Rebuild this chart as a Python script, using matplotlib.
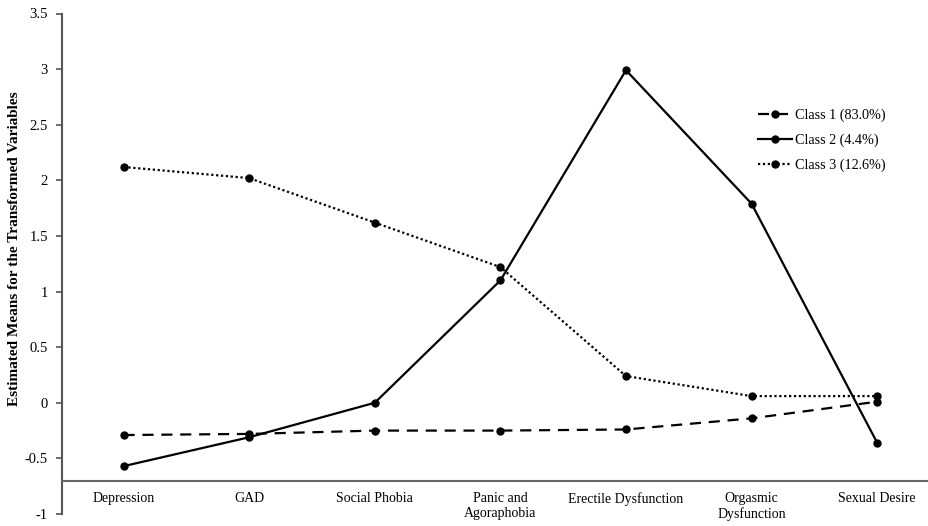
import numpy as np
import matplotlib
matplotlib.use('Agg')
import matplotlib.pyplot as plt

plt.rcParams['font.family'] = ['Liberation Serif', 'DejaVu Serif']

categories = ['Depression', 'GAD', 'Social Phobia', 'Panic and\nAgoraphobia',
              'Erectile Dysfunction', 'Orgasmic\nDysfunction', 'Sexual Desire']
class1 = [-0.29, -0.28, -0.25, -0.25, -0.24, -0.14, 0.01]
class2 = [-0.57, -0.31, 0.0, 1.10, 2.99, 1.79, -0.36]
class3 = [2.12, 2.02, 1.62, 1.22, 0.24, 0.06, 0.06]
labels = ['Class 1 (83.0%)', 'Class 2 (4.4%)', 'Class 3 (12.6%)']

fig = plt.figure(figsize=(9.29, 5.26), dpi=100)
ax = fig.add_axes([62 / 929, 12 / 526, 878 / 929, 500.5 / 526])

x = np.arange(len(categories))
ax.plot(x, class1, color='black', lw=1.6, ls=(0, (5, 3.5)), marker='o', ms=5, label=labels[0])
ax.plot(x, class2, color='black', lw=1.6, ls='-', marker='o', ms=5, label=labels[1])
ax.plot(x, class3, color='black', lw=1.6, ls=(0, (1, 1.2)), marker='o', ms=5, label=labels[2])

ax.set_xlim(-0.49, 6.5)
ax.set_ylim(-1, 3.5)
ax.set_yticks(np.arange(-1, 3.51, 0.5))
ax.set_yticklabels(['-1', '-0.5', '0', '0.5', '1', '1.5', '2', '2.5', '3', '3.5'], fontsize=10.5)
ax.set_xticks(x)
ax.set_xticklabels(categories, fontsize=10.2, va='top', linespacing=1.1)

for s in ['top', 'right']:
    ax.spines[s].set_visible(False)
ax.spines['bottom'].set_position(('data', -0.7))
ax.spines['bottom'].set_color('#666666')
ax.spines['bottom'].set_linewidth(1.5)
ax.spines['left'].set_color('#555555')
ax.spines['left'].set_linewidth(1.5)
ax.tick_params(axis='x', length=0, pad=8)
ax.tick_params(axis='y', length=4, width=1.2, color='#555555', pad=6)

ax.set_ylabel('Estimated Means for the Transformed Variables', fontsize=11,
              fontweight='bold', labelpad=7)
ax.yaxis.set_label_coords(-0.047, 0.53)

ax.legend(loc='upper left', bbox_to_anchor=(0.778, 0.835), frameon=False, fontsize=10.2,
          handlelength=2.4, handletextpad=0.2, labelspacing=0.8)

fig.savefig('out.png', dpi=100)
